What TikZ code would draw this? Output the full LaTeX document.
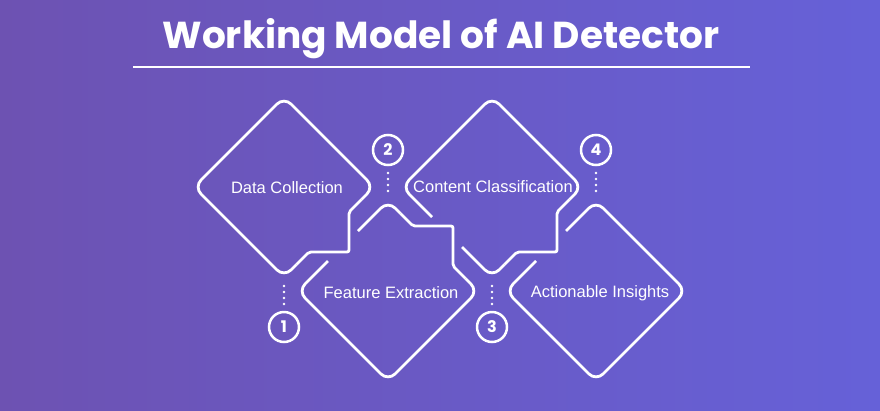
\documentclass[tikz,border=0pt]{standalone}
\usepackage{fontspec}
\newfontfamily\titlefont{Poppins}
\newfontfamily\labelfont{Liberation Sans}
\definecolor{bgleft}{RGB}{109,82,178}
\definecolor{bgright}{RGB}{102,97,216}
\begin{document}
\begin{tikzpicture}[x=1pt,y=-1pt,
  diam/.style={draw=white,line width=2.8pt,rounded corners=10pt},
  notch/.style={draw=white,line width=2.8pt,rounded corners=2pt},
  numcirc/.style={circle,draw=white,line width=2.5pt,minimum size=30pt,inner sep=0pt,text=white,font=\titlefont\bfseries\fontsize{16}{16}\selectfont},
  lbl/.style={text=white,font=\labelfont\fontsize{16.5}{19}\selectfont},
  dotline/.style={white,line width=2.6pt,line cap=round,dash pattern=on 0pt off 6pt}]
\useasboundingbox (0,0) rectangle (880,410);
\shade[left color=bgleft,right color=bgright] (0,0) rectangle (880,410);
% title
\node[text=white,anchor=base,font=\titlefont\bfseries\fontsize{37.5}{42}\selectfont] (title) at (441,48) {Working Model of AI Detector};
\coordinate (rulel) at (133,67);
\coordinate (ruler) at (750,67);
\draw[white,line width=2pt] (rulel) -- (ruler);
% diamond 1 (Data Collection)
\begin{scope}[shift={(284,187)}]
\draw[diam] (77.5,12.5) -- (90,0) -- (0,-90) -- (-90,0) -- (0,90) -- (12.5,77.5);
\draw[notch] (12.5,77.5) -- (25,65) -- (65,65) -- (65,25) -- (77.5,12.5);
\end{scope}
% diamond 2 (Feature Extraction)
\begin{scope}[shift={(388,291)}]
\draw[diam] (-30,-60) -- (0,-90) -- (12.5,-77.5);
\draw[notch] (12.5,-77.5) -- (25,-65) -- (65,-65) -- (65,-25) -- (77.5,-12.5);
\draw[diam] (77.5,-12.5) -- (90,0) -- (0,90) -- (-90,0) -- (-60,-30);
\end{scope}
% diamond 3 (Content Classification)
\begin{scope}[shift={(492,187)}]
\draw[diam] (-30,60) -- (0,90) -- (12.5,77.5);
\draw[notch] (12.5,77.5) -- (25,65) -- (65,65) -- (65,25) -- (77.5,12.5);
\draw[diam] (77.5,12.5) -- (90,0) -- (0,-90) -- (-90,0) -- (-60,30);
\end{scope}
% diamond 4 (Actionable Insights)
\begin{scope}[shift={(596,291)}]
\draw[diam] (-30,-60) -- (0,-90) -- (90,0) -- (0,90) -- (-90,0) -- (-60,-30);
\end{scope}
% labels
\node[lbl] (l1) at (287,188) {Data Collection};
\node[lbl] (l2) at (391,293) {Feature Extraction};
\node[lbl] (l3) at (493,187) {Content Classification};
\node[lbl] (l4) at (600,293) {Actionable Insights};
% number circles
\node[numcirc] (n1) at (284,327) {1};
\node[numcirc] (n2) at (388,150) {2};
\node[numcirc] (n3) at (492,327) {3};
\node[numcirc] (n4) at (596,150) {4};
% dotted connectors
\coordinate (d1a) at (284,286); \coordinate (d1b) at (284,305);
\coordinate (d2a) at (388,173); \coordinate (d2b) at (388,192);
\coordinate (d3a) at (492,286); \coordinate (d3b) at (492,305);
\coordinate (d4a) at (596,173); \coordinate (d4b) at (596,192);
\draw[dotline] (d1a) -- (d1b);
\draw[dotline] (d2a) -- (d2b);
\draw[dotline] (d3a) -- (d3b);
\draw[dotline] (d4a) -- (d4b);
\end{tikzpicture}
\end{document}
